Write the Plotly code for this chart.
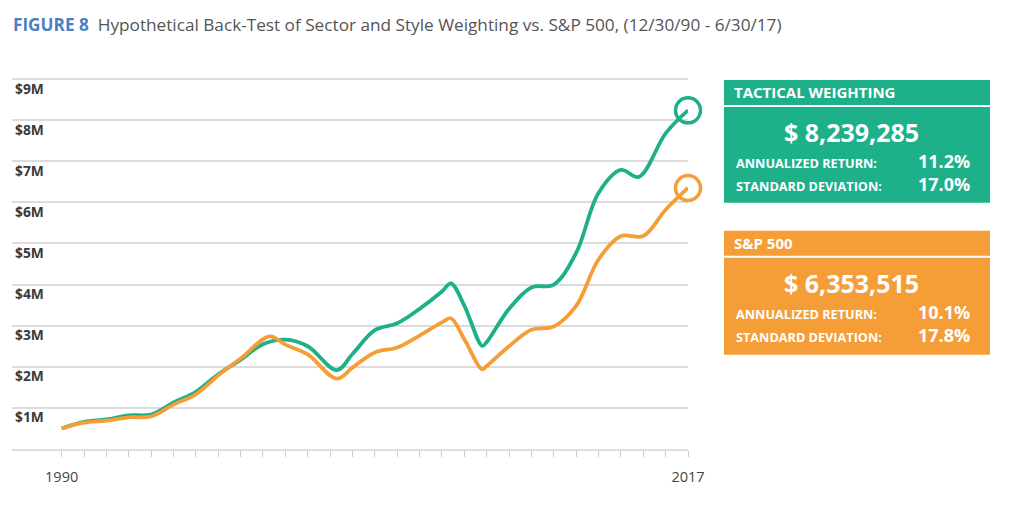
import plotly.graph_objects as go

# ---- data ----
tac_x = [0, 1, 2, 3, 4, 5, 6, 7, 8, 9, 10, 11, 12.3, 13, 14, 15, 16, 17, 17.4, 18, 18.8, 19, 20, 21, 22, 23, 24, 25, 25.8, 27, 28]
tac_v = [0.50, 0.66, 0.72, 0.82, 0.84, 1.13, 1.39, 1.82, 2.17, 2.55, 2.66, 2.50, 1.92, 2.31, 2.89, 3.06, 3.41, 3.83, 4.03, 3.49, 2.51, 2.60, 3.41, 3.93, 4.00, 4.77, 6.23, 6.79, 6.62, 7.68, 8.24]
sp_x = [0, 1, 2, 3, 4, 5, 6, 7, 8, 9.3, 10, 11, 12.3, 13, 14, 15, 16, 17, 17.4, 18, 18.8, 19, 20, 21, 22, 23, 24, 25, 26, 27, 28]
sp_v = [0.50, 0.64, 0.69, 0.77, 0.79, 1.08, 1.33, 1.79, 2.20, 2.74, 2.54, 2.30, 1.71, 1.98, 2.35, 2.47, 2.76, 3.08, 3.18, 2.67, 1.94, 2.02, 2.50, 2.90, 2.98, 3.48, 4.61, 5.18, 5.18, 5.82, 6.35]

tick_vals = list(range(29))
tick_text = ["1990"] + [""] * 27 + ["2017"]
y_vals = [1, 2, 3, 4, 5, 6, 7, 8, 9]
y_text = ["$1M", "$2M", "$3M", "$4M", "$5M", "$6M", "$7M", "$8M", "$9M"]

GREEN = "#1db089"
ORANGE = "#f59d37"
FONT = "Open Sans"

OFF = 8  # page body margin
W, H = 1016, 521
L, R, T, B = 12 - OFF, 336, 79 - OFF - 2, 79.5

def px(xp):
    return (xp - OFF - L) / (W - L - R)

def py(yp):
    return (H - B - (yp - OFF)) / (H - T - B)

fig = go.Figure()
fig.add_trace(go.Scatter(x=tac_x, y=tac_v, mode="lines", line=dict(color=GREEN, width=3.8, shape="spline", smoothing=1.0), hoverinfo="skip", cliponaxis=False))
fig.add_trace(go.Scatter(x=sp_x, y=sp_v, mode="lines", line=dict(color=ORANGE, width=3.8, shape="spline", smoothing=1.0), hoverinfo="skip", cliponaxis=False))
fig.add_trace(go.Scatter(x=[tac_x[-1]], y=[tac_v[-1]], mode="markers", marker=dict(symbol="circle-open", size=25, line=dict(color=GREEN, width=3.5), color=GREEN), hoverinfo="skip", cliponaxis=False))
fig.add_trace(go.Scatter(x=[sp_x[-1]], y=[sp_v[-1]], mode="markers", marker=dict(symbol="circle-open", size=25, line=dict(color=ORANGE, width=3.5), color=ORANGE), hoverinfo="skip", cliponaxis=False))

shapes = []
annos = []

def box(top, hdr_bot, body_top, bot, color, title, amount, ret, sd):
    shapes.append(dict(type="rect", xref="paper", yref="paper", x0=px(724), x1=px(990), y0=py(hdr_bot), y1=py(top), fillcolor=color, line=dict(width=0), layer="above"))
    shapes.append(dict(type="rect", xref="paper", yref="paper", x0=px(724), x1=px(990), y0=py(bot), y1=py(body_top), fillcolor=color, line=dict(width=0), layer="above"))
    annos.append(dict(xref="paper", yref="paper", x=px(732), y=py((top + hdr_bot) / 2), xanchor="left", yanchor="middle", showarrow=False, text="<b>" + title + "</b>", font=dict(family=FONT, size=15, color="white")))
    annos.append(dict(xref="paper", yref="paper", x=px(852), y=py(body_top + 25), xanchor="center", yanchor="middle", showarrow=False, text="<b>" + amount + "</b>", font=dict(family=FONT, size=25, color="white")))
    annos.append(dict(xref="paper", yref="paper", x=px(734), y=py(body_top + 56), xanchor="left", yanchor="middle", showarrow=False, text="<b>ANNUALIZED RETURN:</b>", font=dict(family=FONT, size=12.7, color="white")))
    annos.append(dict(xref="paper", yref="paper", x=px(972), y=py(body_top + 54), xanchor="right", yanchor="middle", showarrow=False, text="<b>" + ret + "</b>", font=dict(family=FONT, size=18, color="white")))
    annos.append(dict(xref="paper", yref="paper", x=px(734), y=py(body_top + 79), xanchor="left", yanchor="middle", showarrow=False, text="<b>STANDARD DEVIATION:</b>", font=dict(family=FONT, size=12.7, color="white")))
    annos.append(dict(xref="paper", yref="paper", x=px(972), y=py(body_top + 77), xanchor="right", yanchor="middle", showarrow=False, text="<b>" + sd + "</b>", font=dict(family=FONT, size=18, color="white")))

box(80, 105, 107, 203, GREEN, "TACTICAL WEIGHTING", "$ 8,239,285", "11.2%", "17.0%")
box(231, 256, 258, 355, ORANGE, "S&P 500", "$ 6,353,515", "10.1%", "17.8%")

annos.append(dict(xref="paper", yref="paper", x=px(11), y=py(24), xanchor="left", yanchor="middle", showarrow=False,
                  text="<b><span style='color:#4a80c3'>FIGURE 8</span></b>  Hypothetical Back-Test of Sector and Style Weighting vs. S&amp;P 500, (12/30/90 - 6/30/17)",
                  font=dict(family=FONT, size=17.2, color="#555555")))

fig.update_layout(
    width=W, height=H,
    margin=dict(l=L, r=R, t=T, b=B),
    paper_bgcolor="white", plot_bgcolor="white",
    showlegend=False,
    shapes=shapes, annotations=annos,
    xaxis=dict(range=[-2.22, 28.0], tickvals=tick_vals, ticktext=tick_text, ticks="outside", ticklen=6, tickcolor="#cccccc", tickwidth=1,
               showgrid=False, zeroline=False, showline=True, linecolor="#dddddd", linewidth=1.5, ticklabelstandoff=8,
               tickfont=dict(family=FONT, size=14.5, color="#444444"), fixedrange=True),
    yaxis=dict(range=[0, 9.05], tickvals=y_vals, ticktext=y_text, ticklabelposition="inside bottom", showgrid=True, gridcolor="#dcdcdc", gridwidth=1.5,
               zeroline=False, showline=False, ticks="", tickfont=dict(family=FONT, size=13.8, color="#3a3a3a", weight="bold"), fixedrange=True),
)

fig.write_html("out.html")
